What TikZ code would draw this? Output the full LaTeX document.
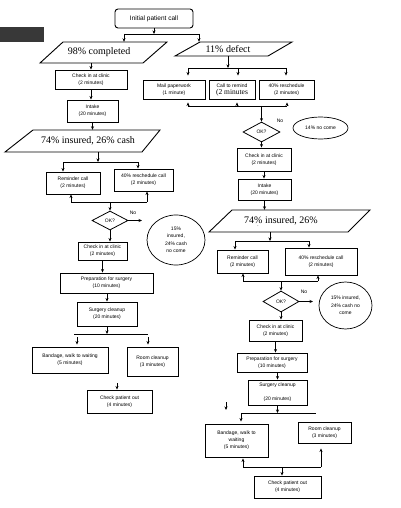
\documentclass[tikz,border=0pt]{standalone}
\usepackage{fontspec}
\setmainfont{Liberation Serif}
\newfontfamily\arialf{Liberation Sans}
\usetikzlibrary{arrows.meta,shapes.geometric}
\begin{document}
\begin{tikzpicture}[x=1pt,y=-1pt,
  box/.style={draw,line width=0.9pt,inner sep=0pt,align=center,font=\arialf\fontsize{5}{7}\selectfont},
  arr/.style={line width=0.8pt,-{Stealth[length=3.5pt,width=3pt]}},
  ln/.style={line width=0.9pt},
  paratext/.style={inner sep=0pt,font=\fontsize{10}{12}\selectfont},
  dia/.style={draw,diamond,line width=0.8pt,inner sep=0pt,font=\arialf\fontsize{5}{6}\selectfont},
  ell/.style={draw,ellipse,line width=0.7pt,inner sep=0pt,align=center,font=\arialf\fontsize{5}{7.5}\selectfont},
  lbl/.style={inner sep=0pt,font=\arialf\fontsize{5}{6}\selectfont}]
\useasboundingbox (0,0) rectangle (400,508);
\fill[black!78] (0,27) rectangle (44,42);

% top
\node[box,rounded corners=3pt,minimum width=78pt,minimum height=19pt,font=\arialf\fontsize{6.5}{8}\selectfont] (init) at (154,18.5) {Initial patient call};
\draw[ln] (63,42) -- (167,42) -- (143,63) -- (40,63) -- cycle;
\node[paratext,minimum height=21pt] (p98) at (99,52.5) {98\% completed};
\draw[ln] (200,42) -- (292,42) -- (268,56) -- (175,56) -- cycle;
\node[paratext,minimum height=14pt] (p11) at (228,49) {11\% defect};
\coordinate (j0) at (154,34);
\coordinate (jl) at (124,34);
\coordinate (jr) at (199,34);
\draw[arr] (init.south) -- (j0);
\draw[ln] (jl) -- (jr);
\draw[arr] (jl) -- (jl |- p98.north);
\draw[arr] (jr) -- (jr |- p11.north);

% left column
\node[box,minimum width=72pt,minimum height=19pt] (ci1) at (91,79.5) {Check in at clinic\\(2 minutes)};
\node[box,minimum width=51pt,minimum height=22pt] (in1) at (92.5,111) {Intake\\(20 minutes)};
\draw[arr] (ci1.north |- p98.south) -- (ci1.north);
\draw[arr] (ci1.south) -- (ci1.south |- in1.north);
\draw[ln] (33,130) -- (160,130) -- (142,152) -- (5,152) -- cycle;
\node[paratext,minimum height=22pt] (p74) at (88,141) {74\% insured, 26\% cash};
\draw[arr] (in1.south) -- (in1.south |- p74.north);
\coordinate (n0) at (98,162);
\coordinate (n1) at (63,162);
\coordinate (n2) at (138,162);
\node[box,minimum width=54pt,minimum height=22pt] (rc1) at (73,183) {Reminder call\\(2 minutes)};
\node[box,minimum width=59pt,minimum height=22pt] (rs1) at (143.5,180) {40\% reschedule call\\(2 minutes)};
\draw[arr] (p74.south -| n0) -- (n0);
\draw[ln] (n1) -- (n2);
\draw[arr] (n1) -- (n1 |- rc1.north);
\draw[arr] (n2) -- (n2 |- rs1.north);
\coordinate (o0) at (110,202);
\coordinate (o1) at (71,202);
\coordinate (o2) at (147,202);
\node[dia,minimum width=36pt,minimum height=19pt] (d1) at (110,220.5) {OK?};
\draw[ln] (o1) -- (o2);
\draw[arr] (o1) -- (o1 |- rc1.south);
\draw[arr] (o2) -- (o2 |- rs1.south);
\draw[arr] (o0) -- (d1.north);
\node[lbl] (no1) at (133,213) {No};
\coordinate (d1x) at (142,220.5);
\draw[arr] (d1.east) -- (d1x);
\node[ell,minimum width=58pt,minimum height=50pt] (c1) at (176,240) {15\%\\insured,\\24\% cash\\no come};
\node[box,minimum width=49pt,minimum height=18pt] (ci2) at (102.5,251) {Check in at clinic\\(2 minutes)};
\draw[arr] (d1.south) -- (d1.south |- ci2.north);
\node[box,minimum width=93pt,minimum height=20pt] (pr1) at (106.5,283) {Preparation for surgery\\(10 minutes)};
\draw[arr] (ci2.south) -- (ci2.south |- pr1.north);
\node[box,minimum width=60pt,minimum height=24pt] (su1) at (107,314) {Surgery cleanup\\(20 minutes)};
\draw[arr] (su1.north |- pr1.south) -- (su1.north);
\coordinate (q0) at (107,334);
\coordinate (q1) at (74,334);
\coordinate (q2) at (148,334);
\coordinate (q3) at (77,334);
\draw[arr] (su1.south) -- (q0);
\draw[ln] (q1) -- (q2);
\node[box,minimum width=76pt,minimum height=26pt] (bw1) at (70,360) {Bandage, walk to waiting\\(5 minutes)};
\node[box,minimum width=51pt,minimum height=29pt] (rm1) at (152.5,361.5) {Room cleanup\\(3 minutes)};
\draw[arr,shorten <=3pt,shorten >=2pt] (q3) -- (q3 |- bw1.north);
\draw[arr,shorten <=3pt,shorten >=2pt] (q2) -- (q2 |- rm1.north);
\node[box,minimum width=65pt,minimum height=23pt] (co1) at (119.5,401.5) {Check patient out\\(4 minutes)};
\coordinate (r1) at (117,383);
\draw[arr] (r1) -- (r1 |- co1.north);

% right column
\coordinate (k0) at (228,68);
\coordinate (k1) at (188,68);
\coordinate (k2) at (238,68);
\coordinate (k3) at (286,68);
\node[box,minimum width=62pt,minimum height=19pt] (mp) at (174,89.5) {Mail paperwork\\(1 minute)};
\node[box,minimum width=46pt,minimum height=19pt] (cr) at (232,89.5) {Call to remind\\{\rmfamily\fontsize{7.5}{8}\selectfont (2 minutes}};
\node[box,minimum width=55pt,minimum height=19pt] (rs0) at (286.5,89.5) {40\% reschedule\\(2 minutes)};
\draw[arr] (p11.south) -- (k0);
\draw[ln] (k1) -- (k3);
\draw[arr,shorten >=4pt] (k1) -- (k1 |- mp.north);
\draw[arr,shorten >=4pt] (k2) -- (k2 |- cr.north);
\draw[arr,shorten >=4pt] (k3) -- (k3 |- rs0.north);
\coordinate (m0) at (261.5,106);
\coordinate (m1) at (188,106);
\coordinate (m2) at (237,106);
\coordinate (m3) at (287,106);
\node[dia,minimum width=37pt,minimum height=20pt] (d2) at (261.5,132) {OK?};
\draw[ln] (m1) -- (m3);
\draw[arr,shorten >=3pt] (m1) -- (m1 |- mp.south);
\draw[arr,shorten >=3pt] (m2) -- (m2 |- cr.south);
\draw[arr,shorten >=3pt] (m3) -- (m3 |- rs0.south);
\draw[arr] (m0) -- (d2.north);
\node[lbl] (no2) at (280,121) {No};
\node[ell,minimum width=55pt,minimum height=22pt] (e2) at (320.5,128) {14\% no come};
\node[box,minimum width=54pt,minimum height=23pt] (ci3) at (264,159.5) {Check in at clinic\\(2 minutes)};
\draw[arr] (d2.south) -- (d2.south |- ci3.north);
\node[box,minimum width=53pt,minimum height=21pt] (in3) at (264.5,189.5) {Intake\\(20 minutes)};
\draw[arr] (ci3.south) -- (ci3.south |- in3.north);
\draw[ln] (232,210) -- (370,210) -- (348,232) -- (209,232) -- cycle;
\node[paratext,minimum height=22pt] (p74r) at (281,221) {74\% insured, 26\%};
\node[inner sep=0pt,font=\fontsize{5}{5}\selectfont] (dot) at (258,226) {.};
\draw[arr] (in3.south) -- (in3.south |- p74r.north);
\coordinate (s0) at (270,241);
\coordinate (s1) at (235,241);
\coordinate (s2) at (309,241);
\node[box,minimum width=51pt,minimum height=23pt] (rc2) at (242.5,261.5) {Reminder call\\(2 minutes)};
\node[box,minimum width=72pt,minimum height=27pt] (rs2) at (321,261.5) {40\% reschedule call\\(2 minutes)};
\draw[arr] (p74r.south -| s0) -- (s0);
\draw[ln] (s1) -- (s2);
\draw[arr] (s1) -- (s1 |- rc2.north);
\draw[arr] (s2) -- (s2 |- rs2.north);
\coordinate (u0) at (281,281);
\coordinate (u1) at (243,281);
\coordinate (u2) at (318,281);
\node[dia,minimum width=36pt,minimum height=21pt] (d3) at (281,301.5) {OK?};
\draw[ln] (u1) -- (u2);
\draw[arr] (u1) -- (u1 |- rc2.south);
\draw[arr] (u2) -- (u2 |- rs2.south);
\draw[arr] (u0) -- (d3.north);
\node[lbl] (no3) at (304,292) {No};
\coordinate (d3x) at (313,301.5);
\draw[arr] (d3.east) -- (d3x);
\node[ell,minimum width=53pt,minimum height=47pt] (e3) at (345.5,305.5) {15\% insured,\\24\% cash no\\come};
\node[box,minimum width=53pt,minimum height=21pt] (ci4) at (275.5,330.5) {Check in at clinic\\(2 minutes)};
\draw[arr] (d3.south) -- (d3.south |- ci4.north);
\node[box,minimum width=70pt,minimum height=19pt] (pr2) at (272,362.5) {Preparation for surgery\\(10 minutes)};
\draw[arr] (ci4.south) -- (ci4.south |- pr2.north);
\node[box,minimum width=59pt,minimum height=25pt] (su2) at (277.5,392.5) {Surgery cleanup\\~\\(20 minutes)};
\draw[arr] (su2.north |- pr2.south) -- (su2.north);
\coordinate (v0) at (277.5,413);
\coordinate (v1) at (241,413);
\coordinate (v2) at (316,413);
\coordinate (v3) at (226,402);
\coordinate (v4) at (226,410);
\draw[arr] (su2.south) -- (v0);
\draw[ln] (v1) -- (v2);
\draw[arr] (v3) -- (v4);
\node[box,minimum width=63pt,minimum height=33pt] (bw2) at (236.5,440.5) {Bandage, walk to\\waiting\\(5 minutes)};
\node[box,minimum width=53pt,minimum height=21pt] (rm2) at (324.5,432.5) {Room cleanup\\(3 minutes)};
\draw[arr,shorten >=2pt] (v1) -- (v1 |- bw2.north);
\coordinate (w0) at (282,467);
\coordinate (w1) at (243,467);
\coordinate (w2) at (321,467);
\node[box,minimum width=67pt,minimum height=22pt] (co2) at (287.5,487) {Check patient out\\(4 minutes)};
\draw[ln] (w1) -- (w2);
\draw[arr,shorten >=1pt] (w1) -- (w1 |- bw2.south);
\draw[arr,shorten >=5pt] (w2) -- (w2 |- rm2.south);
\draw[arr] (w0) -- (w0 |- co2.north);
\end{tikzpicture}
\end{document}
